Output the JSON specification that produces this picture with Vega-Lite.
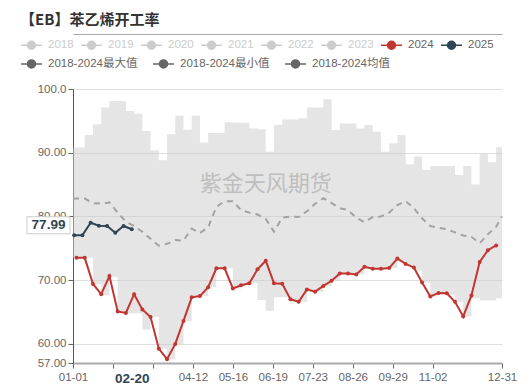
{
  "$schema": "https://vega.github.io/schema/vega-lite/v6.json",
  "width": 429,
  "height": 274,
  "autosize": {"type": "none"},
  "padding": {"left": 73, "top": 89, "right": 30, "bottom": 23},
  "background": "white",
  "config": {"view": {"stroke": null}, "font": "Liberation Sans, Noto Sans CJK SC, sans-serif"},
  "title": {"text": "【EB】苯乙烯开工率", "anchor": "start", "frame": "group", "dx": -53, "offset": 6, "fontSize": 15, "fontWeight": "bold", "color": "#333333", "font": "Noto Sans CJK SC"},
  "datasets": {
    "band": [
      {"date": "2024-01-01", "lo": 73.5, "hi": 90.8},
      {"date": "2024-01-11", "lo": 73.5, "hi": 92.8},
      {"date": "2024-01-18", "lo": 69.35, "hi": 94.45},
      {"date": "2024-01-25", "lo": 67.65, "hi": 97.1},
      {"date": "2024-02-01", "lo": 70.55, "hi": 98.1},
      {"date": "2024-02-08", "lo": 65.05, "hi": 98.1},
      {"date": "2024-02-15", "lo": 64.8, "hi": 96.55},
      {"date": "2024-02-22", "lo": 64.8, "hi": 96.1},
      {"date": "2024-02-29", "lo": 62.2, "hi": 93.4},
      {"date": "2024-03-07", "lo": 64.2, "hi": 90.4},
      {"date": "2024-03-14", "lo": 59.25, "hi": 88.8},
      {"date": "2024-03-21", "lo": 57.6, "hi": 92.9},
      {"date": "2024-03-28", "lo": 60.0, "hi": 95.8},
      {"date": "2024-04-04", "lo": 63.6, "hi": 93.6},
      {"date": "2024-04-11", "lo": 67.3, "hi": 95.8},
      {"date": "2024-04-18", "lo": 67.5, "hi": 91.6},
      {"date": "2024-04-25", "lo": 68.9, "hi": 93.1},
      {"date": "2024-05-02", "lo": 71.85, "hi": 93.1},
      {"date": "2024-05-09", "lo": 71.85, "hi": 94.8},
      {"date": "2024-05-16", "lo": 68.7, "hi": 94.7},
      {"date": "2024-05-23", "lo": 69.2, "hi": 94.7},
      {"date": "2024-05-30", "lo": 69.5, "hi": 93.8},
      {"date": "2024-06-06", "lo": 66.9, "hi": 93.7},
      {"date": "2024-06-13", "lo": 65.2, "hi": 90.15},
      {"date": "2024-06-20", "lo": 67.3, "hi": 94.35},
      {"date": "2024-06-27", "lo": 67.3, "hi": 95.2},
      {"date": "2024-07-04", "lo": 66.6, "hi": 95.2},
      {"date": "2024-07-11", "lo": 66.6, "hi": 95.4},
      {"date": "2024-07-18", "lo": 68.2, "hi": 97.1},
      {"date": "2024-07-25", "lo": 68.2, "hi": 97.1},
      {"date": "2024-08-01", "lo": 69.1, "hi": 98.4},
      {"date": "2024-08-08", "lo": 69.9, "hi": 93.55},
      {"date": "2024-08-15", "lo": 71.05, "hi": 94.6},
      {"date": "2024-08-22", "lo": 70.9, "hi": 94.6},
      {"date": "2024-08-29", "lo": 70.9, "hi": 93.8},
      {"date": "2024-09-05", "lo": 71.8, "hi": 94.35},
      {"date": "2024-09-12", "lo": 71.8, "hi": 93.3},
      {"date": "2024-09-19", "lo": 71.8, "hi": 90.15},
      {"date": "2024-09-26", "lo": 71.9, "hi": 91.5},
      {"date": "2024-10-03", "lo": 72.8, "hi": 92.8},
      {"date": "2024-10-10", "lo": 72.3, "hi": 88.2},
      {"date": "2024-10-17", "lo": 71.5, "hi": 89.4},
      {"date": "2024-10-24", "lo": 69.65, "hi": 87.3},
      {"date": "2024-10-31", "lo": 67.45, "hi": 87.9},
      {"date": "2024-11-07", "lo": 67.7, "hi": 87.9},
      {"date": "2024-11-14", "lo": 67.7, "hi": 87.9},
      {"date": "2024-11-21", "lo": 66.6, "hi": 86.5},
      {"date": "2024-11-28", "lo": 64.3, "hi": 87.9},
      {"date": "2024-12-05", "lo": 67.15, "hi": 85.0},
      {"date": "2024-12-12", "lo": 66.8, "hi": 89.8},
      {"date": "2024-12-19", "lo": 66.8, "hi": 88.5},
      {"date": "2024-12-26", "lo": 67.15, "hi": 90.85},
      {"date": "2024-12-31", "lo": 67.15, "hi": 90.85}
    ],
    "mean": [
      {"date": "2024-01-01", "v": 82.8},
      {"date": "2024-01-04", "v": 82.8},
      {"date": "2024-01-11", "v": 82.8},
      {"date": "2024-01-18", "v": 82.1},
      {"date": "2024-01-25", "v": 82.0},
      {"date": "2024-02-01", "v": 82.2},
      {"date": "2024-02-08", "v": 80.6},
      {"date": "2024-02-15", "v": 79.2},
      {"date": "2024-02-22", "v": 78.5},
      {"date": "2024-02-29", "v": 77.6},
      {"date": "2024-03-07", "v": 76.5},
      {"date": "2024-03-14", "v": 75.4},
      {"date": "2024-03-21", "v": 75.7},
      {"date": "2024-03-28", "v": 76.3},
      {"date": "2024-04-04", "v": 76.2},
      {"date": "2024-04-11", "v": 78.1},
      {"date": "2024-04-18", "v": 77.4},
      {"date": "2024-04-25", "v": 78.3},
      {"date": "2024-05-02", "v": 81.5},
      {"date": "2024-05-09", "v": 82.4},
      {"date": "2024-05-16", "v": 82.4},
      {"date": "2024-05-23", "v": 81.0},
      {"date": "2024-05-30", "v": 80.6},
      {"date": "2024-06-06", "v": 80.3},
      {"date": "2024-06-13", "v": 79.6},
      {"date": "2024-06-20", "v": 77.6},
      {"date": "2024-06-27", "v": 79.8},
      {"date": "2024-07-04", "v": 80.0},
      {"date": "2024-07-11", "v": 79.9},
      {"date": "2024-07-18", "v": 80.8},
      {"date": "2024-07-25", "v": 82.0},
      {"date": "2024-08-01", "v": 82.85},
      {"date": "2024-08-08", "v": 82.1},
      {"date": "2024-08-15", "v": 81.3},
      {"date": "2024-08-22", "v": 81.0},
      {"date": "2024-08-29", "v": 79.8},
      {"date": "2024-09-05", "v": 79.1},
      {"date": "2024-09-12", "v": 79.9},
      {"date": "2024-09-19", "v": 80.0},
      {"date": "2024-09-26", "v": 80.6},
      {"date": "2024-10-03", "v": 81.8},
      {"date": "2024-10-10", "v": 82.4},
      {"date": "2024-10-17", "v": 81.3},
      {"date": "2024-10-24", "v": 79.7},
      {"date": "2024-10-31", "v": 78.5},
      {"date": "2024-11-07", "v": 78.2},
      {"date": "2024-11-14", "v": 78.0},
      {"date": "2024-11-21", "v": 77.5},
      {"date": "2024-11-28", "v": 77.0},
      {"date": "2024-12-05", "v": 76.8},
      {"date": "2024-12-12", "v": 75.8},
      {"date": "2024-12-19", "v": 77.2},
      {"date": "2024-12-26", "v": 78.4},
      {"date": "2024-12-31", "v": 80.0}
    ],
    "lines": [
      {"series": "2024", "date": "2024-01-04", "v": 73.5},
      {"series": "2024", "date": "2024-01-11", "v": 73.5},
      {"series": "2024", "date": "2024-01-18", "v": 69.4},
      {"series": "2024", "date": "2024-01-25", "v": 67.8},
      {"series": "2024", "date": "2024-02-01", "v": 70.65},
      {"series": "2024", "date": "2024-02-08", "v": 65.1},
      {"series": "2024", "date": "2024-02-15", "v": 64.85},
      {"series": "2024", "date": "2024-02-22", "v": 67.8},
      {"series": "2024", "date": "2024-02-29", "v": 65.4},
      {"series": "2024", "date": "2024-03-07", "v": 64.2},
      {"series": "2024", "date": "2024-03-14", "v": 59.25},
      {"series": "2024", "date": "2024-03-21", "v": 57.6},
      {"series": "2024", "date": "2024-03-28", "v": 60.0},
      {"series": "2024", "date": "2024-04-04", "v": 63.6},
      {"series": "2024", "date": "2024-04-11", "v": 67.3},
      {"series": "2024", "date": "2024-04-18", "v": 67.5},
      {"series": "2024", "date": "2024-04-25", "v": 68.9},
      {"series": "2024", "date": "2024-05-02", "v": 71.85},
      {"series": "2024", "date": "2024-05-09", "v": 71.85},
      {"series": "2024", "date": "2024-05-16", "v": 68.7},
      {"series": "2024", "date": "2024-05-23", "v": 69.2},
      {"series": "2024", "date": "2024-05-30", "v": 69.5},
      {"series": "2024", "date": "2024-06-06", "v": 71.7},
      {"series": "2024", "date": "2024-06-13", "v": 73.05},
      {"series": "2024", "date": "2024-06-20", "v": 69.5},
      {"series": "2024", "date": "2024-06-27", "v": 69.45},
      {"series": "2024", "date": "2024-07-04", "v": 67.0},
      {"series": "2024", "date": "2024-07-11", "v": 66.6},
      {"series": "2024", "date": "2024-07-18", "v": 68.55},
      {"series": "2024", "date": "2024-07-25", "v": 68.2},
      {"series": "2024", "date": "2024-08-01", "v": 69.1},
      {"series": "2024", "date": "2024-08-08", "v": 69.9},
      {"series": "2024", "date": "2024-08-15", "v": 71.05},
      {"series": "2024", "date": "2024-08-22", "v": 71.05},
      {"series": "2024", "date": "2024-08-29", "v": 70.9},
      {"series": "2024", "date": "2024-09-05", "v": 72.1},
      {"series": "2024", "date": "2024-09-12", "v": 71.8},
      {"series": "2024", "date": "2024-09-19", "v": 71.8},
      {"series": "2024", "date": "2024-09-26", "v": 71.9},
      {"series": "2024", "date": "2024-10-03", "v": 73.4},
      {"series": "2024", "date": "2024-10-10", "v": 72.55},
      {"series": "2024", "date": "2024-10-17", "v": 72.0},
      {"series": "2024", "date": "2024-10-24", "v": 69.65},
      {"series": "2024", "date": "2024-10-31", "v": 67.45},
      {"series": "2024", "date": "2024-11-07", "v": 68.0},
      {"series": "2024", "date": "2024-11-14", "v": 67.95},
      {"series": "2024", "date": "2024-11-21", "v": 66.6},
      {"series": "2024", "date": "2024-11-28", "v": 64.3},
      {"series": "2024", "date": "2024-12-05", "v": 67.6},
      {"series": "2024", "date": "2024-12-12", "v": 72.85},
      {"series": "2024", "date": "2024-12-19", "v": 74.7},
      {"series": "2024", "date": "2024-12-26", "v": 75.45},
      {"series": "2025", "date": "2024-01-02", "v": 77.03},
      {"series": "2025", "date": "2024-01-09", "v": 77.03},
      {"series": "2025", "date": "2024-01-16", "v": 79.0},
      {"series": "2025", "date": "2024-01-23", "v": 78.55},
      {"series": "2025", "date": "2024-01-30", "v": 78.5},
      {"series": "2025", "date": "2024-02-06", "v": 77.45},
      {"series": "2025", "date": "2024-02-13", "v": 78.5},
      {"series": "2025", "date": "2024-02-20", "v": 77.99}
    ],
    "stats": [
      {"stat": "2018-2024最大值"},
      {"stat": "2018-2024最小值"},
      {"stat": "2018-2024均值"}
    ],
    "mark": [{"label": "紫金天风期货"}]
  },
  "layer": [
    {
      "data": {"name": "band"},
      "mark": {"type": "area", "interpolate": "step-after", "fill": "#cccccc", "fillOpacity": 0.5},
      "encoding": {
        "x": {
          "field": "date", "type": "temporal",
          "scale": {"type": "utc", "domain": [{"year": 2024, "month": 1, "date": 1, "utc": true}, {"year": 2024, "month": 12, "date": 31, "utc": true}]},
          "axis": {"orient": "top", "offset": 55, "domainColor": "#aaaaaa", "domainWidth": 1, "ticks": false, "labels": false, "grid": false, "title": null}
        },
        "y": {
          "field": "hi", "type": "quantitative",
          "scale": {"domain": [57, 100], "nice": false, "zero": false},
          "axis": {"values": [57, 60, 70, 80, 90, 100], "format": ".4r", "labelColor": "#666666", "labelFontSize": 11.5, "labelPadding": 2, "labelOverlap": false, "tickSize": 5, "tickColor": "#666666", "domainColor": "#555555", "gridColor": "#dedede", "title": null}
        },
        "y2": {"field": "lo"}
      }
    },
    {
      "data": {"name": "mean"},
      "mark": {"type": "line", "strokeDash": [6, 5], "color": "#a3a3a3", "strokeWidth": 2},
      "encoding": {
        "x": {
          "field": "date", "type": "temporal",
          "axis": {
            "orient": "bottom",
            "values": [
              {"year": 2024, "month": 1, "date": 1, "utc": true},
              {"year": 2024, "month": 2, "date": 4, "utc": true},
              {"year": 2024, "month": 2, "date": 20, "utc": true},
              {"year": 2024, "month": 3, "date": 9, "utc": true},
              {"year": 2024, "month": 4, "date": 12, "utc": true},
              {"year": 2024, "month": 5, "date": 16, "utc": true},
              {"year": 2024, "month": 6, "date": 19, "utc": true},
              {"year": 2024, "month": 7, "date": 23, "utc": true},
              {"year": 2024, "month": 8, "date": 26, "utc": true},
              {"year": 2024, "month": 9, "date": 29, "utc": true},
              {"year": 2024, "month": 11, "date": 2, "utc": true},
              {"year": 2024, "month": 12, "date": 31, "utc": true}
            ],
            "labelExpr": "indexof(['02-04', '03-09'], utcFormat(datum.value, '%m-%d')) >= 0 ? '' : utcFormat(datum.value, '%m-%d')",
            "labelFontWeight": {"condition": {"test": "utcFormat(datum.value, '%m-%d') == '02-20'", "value": "bold"}, "value": "normal"},
            "labelFontSize": {"condition": {"test": "utcFormat(datum.value, '%m-%d') == '02-20'", "value": 13.5}, "value": 11.5},
            "labelColor": {"condition": {"test": "utcFormat(datum.value, '%m-%d') == '02-20'", "value": "#2f4554"}, "value": "#666666"},
            "tickOpacity": {"condition": {"test": "utcFormat(datum.value, '%m-%d') == '02-20'", "value": 0}, "value": 1},
            "domainColor": "#aaaaaa", "domainWidth": 2, "tickColor": "#666666", "tickSize": 5, "labelPadding": 3,
            "grid": false, "title": null, "labelFlush": false, "labelOverlap": false
          }
        },
        "y": {"field": "v", "type": "quantitative"}
      }
    },
    {
      "data": {"name": "lines"},
      "mark": {"type": "line", "strokeWidth": 2},
      "encoding": {
        "x": {"field": "date", "type": "temporal", "axis": null},
        "y": {"field": "v", "type": "quantitative"},
        "color": {
          "field": "series", "type": "nominal",
          "scale": {"domain": ["2018", "2019", "2020", "2021", "2022", "2023", "2024", "2025"], "range": ["#cccccc", "#cccccc", "#cccccc", "#cccccc", "#cccccc", "#cccccc", "#c23531", "#2f4554"]},
          "legend": {
            "orient": "none", "legendX": -53, "legendY": -55.5, "direction": "horizontal", "title": null, "padding": 0,
            "symbolType": "M-1,0H1M0.38,0A0.38,0.38,0,1,1,-0.38,0A0.38,0.38,0,1,1,0.38,0Z",
            "symbolSize": 441, "symbolStrokeWidth": 1.5, "labelFontSize": 11.5, "labelOffset": 5, "columnPadding": 4,
            "encode": {
              "symbols": {"update": {"fill": {"scale": "color", "field": "value"}, "stroke": {"scale": "color", "field": "value"}, "opacity": {"value": 1}}},
              "labels": {"update": {"fill": {"signal": "datum.value == '2024' || datum.value == '2025' ? '#666666' : '#cccccc'"}}}
            }
          }
        }
      }
    },
    {
      "data": {"name": "lines"},
      "mark": {"type": "point", "filled": true, "size": 16, "opacity": 1},
      "encoding": {
        "x": {"field": "date", "type": "temporal", "axis": null},
        "y": {"field": "v", "type": "quantitative"},
        "color": {"field": "series", "type": "nominal"}
      }
    },
    {
      "data": {"name": "stats"},
      "mark": {"type": "point", "filled": true, "size": 0, "opacity": 1},
      "encoding": {
        "fill": {
          "field": "stat", "type": "nominal",
          "scale": {"domain": ["2018-2024最大值", "2018-2024最小值", "2018-2024均值"], "range": ["#666666", "#666666", "#666666"]},
          "legend": {
            "orient": "none", "legendX": -53, "legendY": -36.8, "direction": "horizontal", "title": null, "padding": 0,
            "symbolType": "M-1,0H1M0.38,0A0.38,0.38,0,1,1,-0.38,0A0.38,0.38,0,1,1,0.38,0Z",
            "symbolSize": 441, "symbolStrokeWidth": 1.5, "symbolStrokeColor": "#666666", "labelFontSize": 11.5, "labelOffset": 5, "columnPadding": 12, "labelColor": "#666666",
            "encode": {"symbols": {"update": {"stroke": {"value": "#666666"}, "opacity": {"value": 1}}}}
          }
        }
      }
    },
    {
      "data": {"name": "lines"},
      "transform": [{"filter": "datum.series == '2025' && utcmonth(datum.date) == 1 && utcdate(datum.date) == 20"}],
      "mark": {"type": "point", "shape": "M-4.6,-1.25H-0.3V0.45H-4.6Z", "size": 400, "filled": true, "fill": "white", "stroke": "#cccccc", "strokeWidth": 1, "opacity": 1},
      "encoding": {
        "x": {"datum": {"year": 2024, "month": 1, "date": 1, "utc": true}, "type": "temporal", "axis": null},
        "y": {"field": "v", "type": "quantitative"}
      }
    },
    {
      "data": {"name": "lines"},
      "transform": [{"filter": "datum.series == '2025' && utcmonth(datum.date) == 1 && utcdate(datum.date) == 20"}],
      "mark": {"type": "text", "dx": -24.5, "dy": -4, "fontSize": 13.5, "fontWeight": "bold", "color": "#2f4554", "align": "center", "baseline": "middle"},
      "encoding": {
        "x": {"datum": {"year": 2024, "month": 1, "date": 1, "utc": true}, "type": "temporal", "axis": null},
        "y": {"field": "v", "type": "quantitative"},
        "text": {"field": "v", "type": "quantitative", "format": ".2f"}
      }
    },
    {
      "data": {"name": "mark"},
      "mark": {"type": "text", "fontSize": 22, "color": "#999999", "opacity": 0.5, "font": "Noto Sans CJK SC", "align": "center", "baseline": "middle"},
      "encoding": {
        "x": {"datum": {"year": 2024, "month": 6, "date": 13, "utc": true}, "type": "temporal", "axis": null},
        "y": {"datum": 85.1, "type": "quantitative"},
        "text": {"field": "label", "type": "nominal"}
      }
    }
  ],
  "resolve": {"axis": {"x": "independent"}}
}
